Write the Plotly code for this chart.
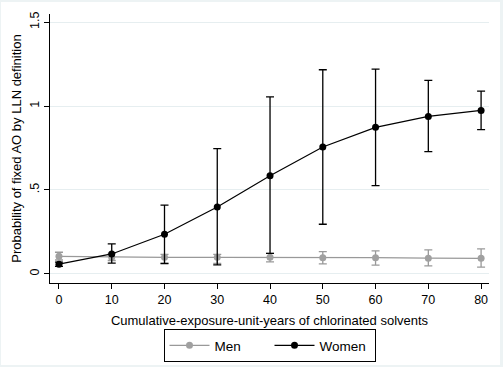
import plotly.graph_objects as go

exposure = [0, 10, 20, 30, 40, 50, 60, 70, 80]

men_prob = [0.105, 0.100, 0.099, 0.099, 0.099, 0.097, 0.097, 0.094, 0.093]
men_hi = [0.129, 0.122, 0.117, 0.117, 0.123, 0.133, 0.137, 0.143, 0.149]
men_lo = [0.083, 0.080, 0.065, 0.063, 0.072, 0.060, 0.052, 0.048, 0.040]

women_prob = [0.058, 0.119, 0.236, 0.399, 0.585, 0.756, 0.873, 0.938, 0.974]
women_hi = [0.070, 0.179, 0.410, 0.746, 1.055, 1.216, 1.220, 1.153, 1.089]
women_lo = [0.045, 0.064, 0.061, 0.054, 0.123, 0.296, 0.526, 0.728, 0.859]

y_ticks = [0, 0.5, 1, 1.5]
y_tick_labels = ["0", ".5", "1", "1.5"]
x_ticks = [0, 10, 20, 30, 40, 50, 60, 70, 80]

MEN_C = "#a0a0a0"
WOMEN_C = "#000000"


def series(name, x, y, lo, hi, color, lcolor):
    return go.Scatter(
        x=x, y=y, name=name, mode="lines+markers",
        line=dict(color=lcolor, width=1.2),
        marker=dict(color=color, size=7, symbol="circle"),
        error_y=dict(type="data", symmetric=False,
                     array=[h - v for h, v in zip(hi, y)],
                     arrayminus=[v - l for l, v in zip(lo, y)],
                     color=lcolor, thickness=1.3, width=4),
    )


fig = go.Figure()
fig.add_trace(series("Men", exposure, men_prob, men_lo, men_hi, MEN_C, "#999999"))
fig.add_trace(series("Women", exposure, women_prob, women_lo, women_hi, WOMEN_C, "#000000"))

L, R, T, B = 50, 14, 14, 84
W, H = 503, 367
pw = W - L - R
ph = H - T - B

def px_x(p):
    return (p - L) / pw

def px_y(p):
    return (H - B - p) / ph

fig.add_shape(type="rect", xref="paper", yref="paper",
              x0=px_x(1), x1=px_x(500), y0=px_y(365), y1=px_y(2),
              fillcolor="white", line=dict(width=0), layer="below")

fig.update_layout(
    width=W, height=H,
    margin=dict(l=L, r=R, t=T, b=B, autoexpand=False),
    paper_bgcolor="#edf3f4",
    plot_bgcolor="white",
    font=dict(family="Liberation Sans, Arial, sans-serif", color="#000000", size=13),
    showlegend=True,
    legend=dict(orientation="h", x=0.5, xanchor="center", y=px_y(362), yanchor="bottom",
                bordercolor="#000000", borderwidth=1, bgcolor="white",
                font=dict(size=13.5), itemwidth=40, tracegroupgap=0,
                entrywidth=50, entrywidthmode="pixels"),
)

fig.update_xaxes(
    range=[-1.7, 81.5], tickvals=x_ticks, ticktext=[str(v) for v in x_ticks],
    automargin=False,
    showgrid=False, zeroline=False, showline=True, linecolor="#000000", linewidth=1,
    ticks="outside", ticklen=5, tickcolor="#000000", tickfont=dict(size=12.5),
    title=dict(text="Cumulative-exposure-unit-years of chlorinated solvents",
               font=dict(size=13), standoff=9),
)
fig.update_yaxes(
    range=[-0.054, 1.548], tickvals=y_ticks, ticktext=y_tick_labels,
    tickangle=-90, automargin=False,
    showgrid=True, gridcolor="#e6eef0", gridwidth=1,
    zeroline=False, showline=True, linecolor="#000000", linewidth=1,
    ticks="outside", ticklen=5, tickcolor="#000000", tickfont=dict(size=12.5),
    title=dict(text="Probability of fixed AO by LLN definition",
               font=dict(size=13), standoff=3),
)

fig.write_html(
    "out.html",
    config={"displayModeBar": False},
    post_script="document.body.style.margin='0';document.body.style.overflow='hidden';",
)
